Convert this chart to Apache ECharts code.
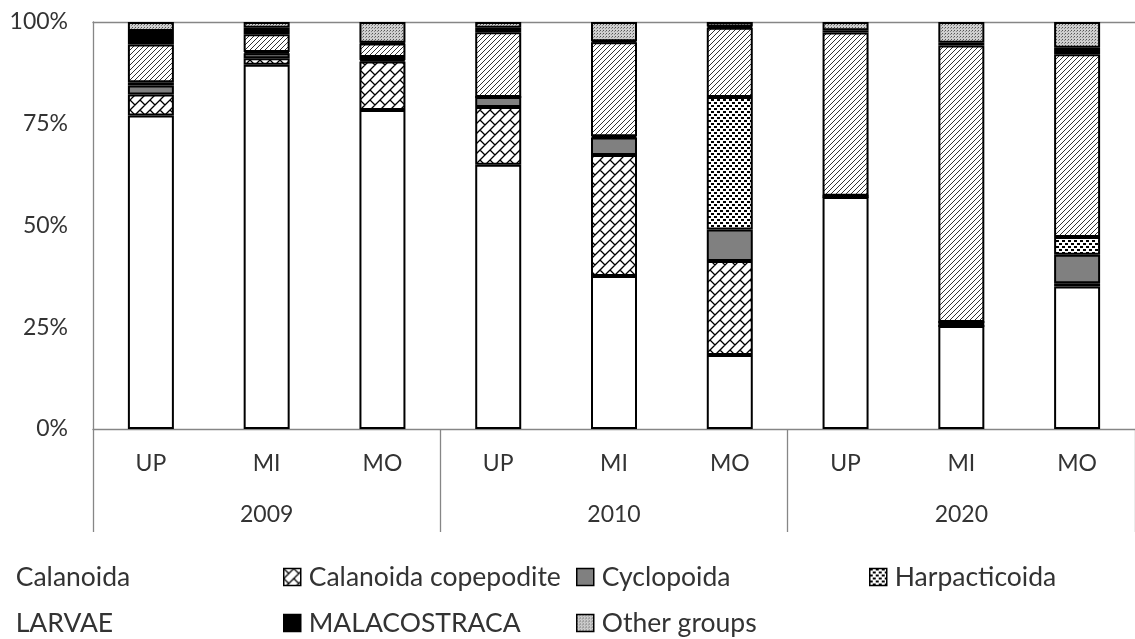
<!DOCTYPE html>
<html>
<head>
<meta charset="utf-8">
<script src="https://cdn.jsdelivr.net/npm/echarts@6/dist/echarts.min.js"></script>
<style>
html,body{margin:0;padding:0;background:#fff;}
#chart{width:1135px;height:639px;}
</style>
</head>
<body>
<div id="chart"></div>
<script>
// ---- data ----
const sites = ['UP', 'MI', 'MO', 'UP', 'MI', 'MO', 'UP', 'MI', 'MO'];
const years = ['2009', '2010', '2020'];
const yTicks = [0, 25, 50, 75, 100];

const calanoida   = [77.0, 89.5, 78.4, 64.9, 37.6, 18.2, 57.0, 25.3, 35.0];
const copepodite  = [5.2, 1.6, 11.9, 14.2, 29.7, 23.1, 0, 0, 0.8];
const cyclopoida  = [2.2, 1.2, 0.3, 2.5, 4.3, 7.7, 0.3, 1.0, 7.0];
const harpacticoida = [0.8, 0.3, 0.8, 0, 0.3, 32.6, 0, 0, 4.4];
const larvae      = [9.3, 4.4, 3.3, 15.9, 23.1, 17.0, 40.1, 67.9, 44.9];
const malacostraca = [3.3, 1.6, 0.2, 1.1, 0.3, 0.3, 0.6, 0.7, 1.6];
const otherGroups = [2.2, 1.4, 5.1, 1.4, 4.7, 1.1, 2.0, 5.1, 6.3];

// ---- patterns ----
function tile(w, h, draw) {
  const c = document.createElement('canvas');
  c.width = w; c.height = h;
  const ctx = c.getContext('2d');
  ctx.fillStyle = '#fff';
  ctx.fillRect(0, 0, w, h);
  draw(ctx, w, h);
  return { image: c, repeat: 'repeat' };
}

const brickPattern = tile(20, 20, function (ctx) {
  ctx.strokeStyle = '#000';
  ctx.lineWidth = 1.3;
  ctx.beginPath();
  for (let k = -6; k <= 10; k++) {
    const s = 10 * k;
    ctx.moveTo(s + 40, -40); ctx.lineTo(s - 40, 40);
    const a = (k % 2 === 0) ? 0 : 10;
    for (let m = -4; m <= 4; m++) {
      const d = a + 20 * m;
      const s1 = s, s2 = s + 10;
      ctx.moveTo((s1 + d) / 2, (s1 - d) / 2);
      ctx.lineTo((s2 + d) / 2, (s2 - d) / 2);
    }
  }
  ctx.stroke();
});

const hatchPattern = tile(5, 5, function (ctx) {
  ctx.strokeStyle = '#333';
  ctx.lineWidth = 1;
  ctx.beginPath();
  ctx.moveTo(-1, 6); ctx.lineTo(6, -1);
  ctx.moveTo(-4, 4); ctx.lineTo(4, -4);
  ctx.moveTo(1, 9); ctx.lineTo(9, 1);
  ctx.stroke();
});

const dotsPattern = tile(6, 6, function (ctx) {
  ctx.fillStyle = '#000';
  ctx.fillRect(0, 0, 3, 2);
  ctx.fillRect(3, 3, 3, 2);
});

const otherPattern = tile(3, 3, function (ctx) {
  ctx.fillStyle = '#cfcfcf';
  ctx.fillRect(0, 0, 3, 3);
  ctx.fillStyle = '#555';
  ctx.fillRect(0, 0, 1, 1);
  ctx.fillStyle = '#8a8a8a';
  ctx.fillRect(2, 1, 1, 1);
});

const seriesDefs = [
  { name: 'Calanoida', data: calanoida, color: '#ffffff' },
  { name: 'Calanoida copepodite', data: copepodite, color: brickPattern },
  { name: 'Cyclopoida', data: cyclopoida, color: '#808080' },
  { name: 'Harpacticoida', data: harpacticoida, color: dotsPattern },
  { name: 'LARVAE', data: larvae, color: hatchPattern },
  { name: 'MALACOSTRACA', data: malacostraca, color: '#000000' },
  { name: 'Other groups', data: otherGroups, color: otherPattern }
];

const FONT = 'Lato, "Open Sans", sans-serif';
const TXT = '#333333';
const LINE = '#868686';

// legend placement: icon left edge, row top, extra text padding
const legendPos = [
  { name: 'Calanoida', left: -30, top: 563, pad: 23 },
  { name: 'Calanoida copepodite', left: 283, top: 563, pad: 3 },
  { name: 'Cyclopoida', left: 576, top: 563, pad: 3 },
  { name: 'Harpacticoida', left: 869, top: 563, pad: 3 },
  { name: 'LARVAE', left: -30, top: 609, pad: 23 },
  { name: 'MALACOSTRACA', left: 283, top: 609, pad: 3 },
  { name: 'Other groups', left: 576, top: 609, pad: 3 }
];

const chart = echarts.init(document.getElementById('chart'), null, { renderer: 'canvas' });

const option = {
  animation: false,
  backgroundColor: '#ffffff',
  grid: { left: 93, right: -7, top: 22, bottom: 210, containLabel: false },
  legend: legendPos.map(function (p) {
    return {
      data: [p.name],
      left: p.left,
      top: p.top,
      padding: 0,
      itemWidth: 17,
      itemHeight: 17,
      selectedMode: false,
      icon: 'rect',
      itemStyle: { borderColor: '#000', borderWidth: 1.5 },
      textStyle: { fontFamily: FONT, fontSize: 26.5, color: TXT, lineHeight: 28, padding: [0, 0, 0, p.pad] }
    };
  }),
  xAxis: [
    {
      type: 'category',
      data: sites,
      position: 'bottom',
      axisLine: { show: true, lineStyle: { color: LINE, width: 1.3 } },
      axisTick: { show: false },
      axisLabel: { fontFamily: FONT, fontSize: 23, color: TXT, margin: 21, lineHeight: 28, interval: 0 },
      splitLine: { show: false }
    },
    {
      type: 'category',
      data: sites,
      position: 'top',
      axisLine: { show: true, lineStyle: { color: LINE, width: 1.3 } },
      axisTick: { show: false },
      axisLabel: { show: false },
      splitLine: { show: false }
    },
    {
      type: 'category',
      data: years,
      position: 'bottom',
      axisLine: { show: false },
      axisTick: { show: true, length: 103, interval: 0, lineStyle: { color: LINE, width: 1.3 } },
      axisLabel: { fontFamily: FONT, fontSize: 23, color: TXT, margin: 72, lineHeight: 28, interval: 0 },
      splitLine: { show: false }
    }
  ],
  yAxis: {
    type: 'value',
    min: yTicks[0],
    max: yTicks[yTicks.length - 1],
    interval: 25,
    axisLine: { show: true, lineStyle: { color: LINE, width: 1.3 } },
    axisTick: { show: false },
    splitLine: { show: false },
    axisLabel: { fontFamily: FONT, fontSize: 23, color: TXT, margin: 25, formatter: '{value}%' }
  },
  series: seriesDefs.map(function (s) {
    return {
      name: s.name,
      type: 'bar',
      stack: 'total',
      xAxisIndex: 0,
      barWidth: 46,
      data: s.data,
      itemStyle: { color: s.color, borderColor: '#000', borderWidth: 2 },
      emphasis: { disabled: true }
    };
  })
};

chart.setOption(option);
</script>
</body>
</html>
